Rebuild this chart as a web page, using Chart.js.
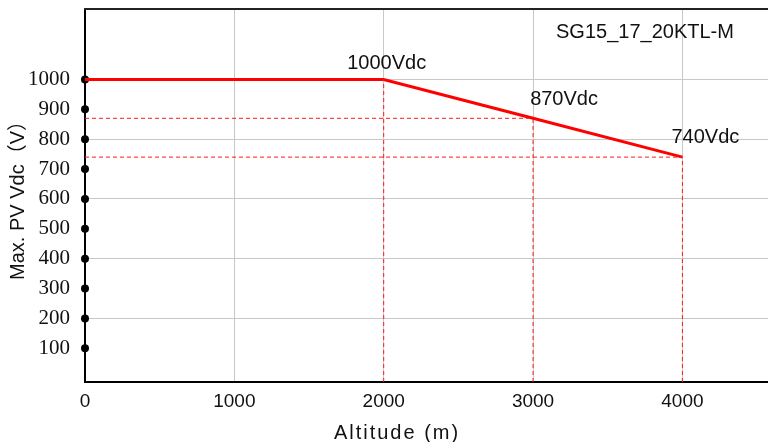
<!DOCTYPE html>
<html>
<head>
<meta charset="utf-8">
<script src="https://cdn.jsdelivr.net/npm/chart.js@4"></script>
<style>
  html, body { margin: 0; padding: 0; background: #fff; overflow: hidden; }
  canvas { display: block; }
</style>
</head>
<body>
<canvas id="c" width="776" height="442"></canvas>
<script>
// ---- data ----
const altitudes = [0, 2000, 3000, 4000];
const maxVdc = [1000, 1000, 870, 740];
const pointLabels = ['', '1000Vdc', '870Vdc', '740Vdc'];
const xTicks = [0, 1000, 2000, 3000, 4000];
const yTicks = [100, 200, 300, 400, 500, 600, 700, 800, 900, 1000];
const modelName = 'SG15_17_20KTL-M';
const xTitle = 'Altitude (m)';
const yTitle = 'Max. PV Vdc（V）';
const xRange = [0, 4600];
const yRange = [-13, 1236];

// ---- derived datasets ----
const mainLine = altitudes.map((a, i) => ({ x: a, y: maxVdc[i] }));
const guides = [];
for (let i = 1; i < altitudes.length; i++) {
  guides.push([{ x: altitudes[i], y: yRange[0] }, { x: altitudes[i], y: maxVdc[i] }]);
  if (maxVdc[i] !== maxVdc[0]) {
    guides.push([{ x: altitudes[0], y: maxVdc[i] }, { x: altitudes[i], y: maxVdc[i] }]);
  }
}
const axisDots = yTicks.map(v => ({ x: altitudes[0], y: v }));

const sans = '"Liberation Sans", Arial, "Noto Sans CJK SC", sans-serif';
const serif = '"Liberation Serif", "Times New Roman", serif';

const datasets = [];
guides.forEach(g => datasets.push({
  data: g, borderColor: '#ff1a1a', backgroundColor: '#ff1a1a', borderWidth: 1, borderDash: [4, 3],
  pointRadius: 0, showLine: true, fill: false
}));
datasets.push({
  data: mainLine, borderColor: '#ff0000', backgroundColor: '#ff0000', borderWidth: 3, pointRadius: 0,
  showLine: true, fill: false, borderCapStyle: 'butt', clip: 4
});
datasets.push({
  data: axisDots, showLine: false, pointRadius: 4, pointBackgroundColor: '#000',
  pointBorderColor: '#000', backgroundColor: '#000', borderColor: '#000', borderWidth: 0, clip: false
});

const labelOffsets = [[0, 0], [3, -16], [31, -19], [23, -20]];

const decor = {
  id: 'decor',
  afterDatasetsDraw(chart) {
    const ctx = chart.ctx, xs = chart.scales.x, ys = chart.scales.y, ca = chart.chartArea;
    ctx.save();
    // top frame line
    ctx.strokeStyle = '#222';
    ctx.lineWidth = 2;
    ctx.beginPath();
    ctx.moveTo(ca.left - 1, ca.top);
    ctx.lineTo(ca.right + 1, ca.top);
    ctx.stroke();
    // point value labels
    ctx.fillStyle = '#111';
    ctx.font = '20px ' + sans;
    ctx.textAlign = 'center';
    ctx.textBaseline = 'middle';
    pointLabels.forEach((t, i) => {
      if (!t) return;
      const px = xs.getPixelForValue(altitudes[i]) + labelOffsets[i][0];
      const py = ys.getPixelForValue(maxVdc[i]) + labelOffsets[i][1];
      ctx.fillText(t, px, py);
    });
    // model name
    ctx.textAlign = 'left';
    ctx.fillText(modelName, 556, 32);
    // x axis title
    ctx.textAlign = 'center';
    ctx.letterSpacing = '2px';
    ctx.fillText(xTitle, 397, 433);
    ctx.restore();
  }
};

new Chart(document.getElementById('c'), {
  type: 'scatter',
  data: { datasets },
  options: {
    responsive: false,
    animation: false,
    devicePixelRatio: 1,
    layout: { padding: { top: 9, right: 4, left: 0, bottom: 0 } },
    plugins: { legend: { display: false }, tooltip: { enabled: false }, title: { display: false } },
    scales: {
      x: {
        type: 'linear', min: xRange[0], max: xRange[1],
        afterBuildTicks: s => { s.ticks = xTicks.map(v => ({ value: v })); },
        afterFit: s => { s.height = 60; s.paddingLeft = 0; s.paddingRight = 0; },
        border: { display: true, color: '#000', width: 2 },
        grid: {
          drawTicks: false,
          color: c => (c.tick && c.tick.value === 0) ? 'rgba(0,0,0,0)' : '#c8c8c8',
          lineWidth: 1
        },
        ticks: {
          padding: 8, color: '#111', maxRotation: 0, autoSkip: false,
          font: { family: sans, size: 19 },
          callback: v => String(v)
        }
      },
      y: {
        type: 'linear', min: yRange[0], max: yRange[1],
        afterBuildTicks: s => { s.ticks = yTicks.map(v => ({ value: v })); },
        afterFit: s => { s.width = 85; s.paddingTop = 0; s.paddingBottom = 0; },
        border: { display: true, color: '#000', width: 2 },
        grid: {
          drawTicks: false,
          color: c => (c.tick && c.tick.value % 200 === 0) ? '#c8c8c8' : 'rgba(0,0,0,0)',
          lineWidth: 1
        },
        ticks: {
          padding: 15, color: '#111', autoSkip: false,
          font: { family: serif, size: 21 },
          callback: v => String(v)
        },
        title: {
          display: true, text: yTitle, color: '#111',
          font: { family: sans, size: 20 }, padding: { top: 6, bottom: 0 }
        }
      }
    }
  },
  plugins: [decor]
});
</script>
</body>
</html>
